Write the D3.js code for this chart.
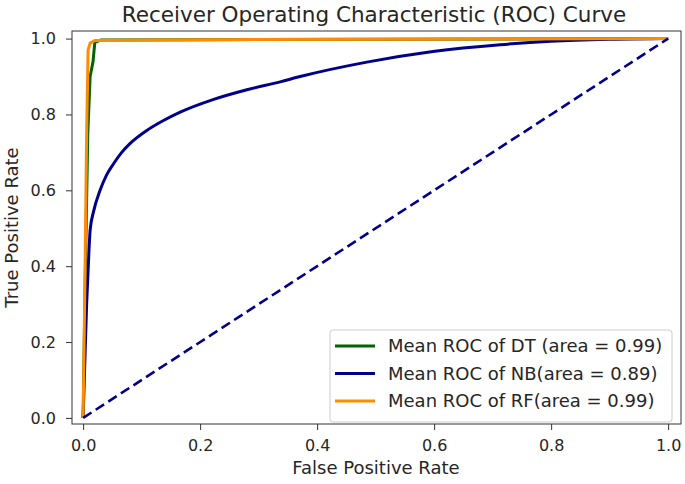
<!DOCTYPE html>
<html>
<head>
<meta charset="utf-8">
<script src="https://cdn.jsdelivr.net/npm/d3@7"></script>
<style>
  body { margin: 0; background: #fff; }
  text { font-family: "DejaVu Sans", sans-serif; fill: #262626; }
</style>
</head>
<body>
<div id="chart"></div>
<script>
// ROC curves
var dtPoints = [[0, 0], [0.004, 0.4], [0.008, 0.75], [0.012, 0.9], [0.017, 0.94], [0.02, 0.99], [0.03, 0.996], [0.2, 0.997], [1, 1]];
var nbPoints = [[0, 0], [0.006, 0.3], [0.01, 0.44], [0.012, 0.495], [0.018, 0.545], [0.029, 0.6], [0.04, 0.64],
    [0.052, 0.67], [0.065, 0.698], [0.08, 0.723], [0.109, 0.758], [0.135, 0.782], [0.166, 0.806],
    [0.222, 0.839], [0.28, 0.865], [0.337, 0.886], [0.371, 0.9], [0.485, 0.938], [0.598, 0.966],
    [0.713, 0.984], [0.8, 0.993], [0.9, 0.998], [1, 1]];
var rfPoints = [[0, 0], [0.003, 0.35], [0.006, 0.75], [0.0085, 0.97], [0.012, 0.988], [0.02, 0.995], [0.2, 0.997], [1, 1]];
var chancePoints = [[0, 0], [1, 1]];

var seriesNames = ["Mean ROC of DT (area = 0.99)", "Mean ROC of NB(area = 0.89)", "Mean ROC of RF(area = 0.99)"];
var seriesColors = ["#006400", "#00008b", "#ff8c00"];
var tickValues = [0, 0.2, 0.4, 0.6, 0.8, 1.0];

var width = 685, height = 484;
var margin = { top: 31, right: 4, bottom: 60, left: 72 };
var w = width - margin.left - margin.right;
var h = height - margin.top - margin.bottom;

var svg = d3.select("#chart").append("svg")
    .attr("width", width)
    .attr("height", height);

var g = svg.append("g")
    .attr("transform", "translate(" + margin.left + "," + margin.top + ")");

var x = d3.scaleLinear().domain([-0.019, 1.022]).range([0, w]);
var y = d3.scaleLinear().domain([-0.016, 1.02]).range([h, 0]);

// axes
var xAxis = d3.axisBottom(x).tickValues(tickValues).tickFormat(d3.format(".1f")).tickSize(6).tickPadding(10);
var yAxis = d3.axisLeft(y).tickValues(tickValues).tickFormat(d3.format(".1f")).tickSize(6).tickPadding(10);

var gx = g.append("g")
    .attr("transform", "translate(0," + h + ")")
    .call(xAxis);
var gy = g.append("g").call(yAxis);

[gx, gy].forEach(function (a) {
    a.select(".domain").remove();
    a.selectAll("line").attr("stroke", "#333");
    a.selectAll("text").style("font-size", "16px").style("font-family", "DejaVu Sans, sans-serif").attr("fill", "#262626");
});

// curves
var line = d3.line()
    .x(function (d) { return x(d[0]); })
    .y(function (d) { return y(d[1]); });

var smooth = d3.line()
    .curve(d3.curveMonotoneX)
    .x(function (d) { return x(d[0]); })
    .y(function (d) { return y(d[1]); });

var curves = [dtPoints, nbPoints, rfPoints];
curves.forEach(function (pts, i) {
    g.append("path")
        .datum(pts)
        .attr("fill", "none")
        .attr("stroke", seriesColors[i])
        .attr("stroke-width", 3)
        .attr("stroke-linejoin", "round")
        .attr("d", i == 1 ? smooth : line);
});

g.append("path")
    .datum(chancePoints)
    .attr("fill", "none")
    .attr("stroke", "#00008b")
    .attr("stroke-width", 2.6)
    .attr("stroke-dasharray", "10,5")
    .attr("d", line);

// frame
g.append("rect")
    .attr("width", w)
    .attr("height", h)
    .attr("fill", "none")
    .attr("stroke", "#333")
    .attr("stroke-width", 1);

// title and labels
svg.append("text")
    .attr("x", 374)
    .attr("y", 22)
    .attr("text-anchor", "middle")
    .style("font-size", "21.5px")
    .text("Receiver Operating Characteristic (ROC) Curve");

svg.append("text")
    .attr("x", 376)
    .attr("y", 474)
    .attr("text-anchor", "middle")
    .style("font-size", "18px")
    .text("False Positive Rate");

svg.append("text")
    .attr("transform", "translate(18," + (margin.top + h / 2) + ") rotate(-90)")
    .attr("text-anchor", "middle")
    .style("font-size", "18px")
    .text("True Positive Rate");

// legend
var legend = svg.append("g").attr("transform", "translate(330,330)");
legend.append("rect")
    .attr("width", 342)
    .attr("height", 92)
    .attr("rx", 3)
    .attr("fill", "#fff")
    .attr("fill-opacity", 0.8)
    .attr("stroke", "#ccc");

seriesNames.forEach(function (name, i) {
    var row = legend.append("g").attr("transform", "translate(0," + (16 + i * 27.5) + ")");
    row.append("line")
        .attr("x1", 5).attr("x2", 45)
        .attr("stroke", seriesColors[i])
        .attr("stroke-width", 3);
    row.append("text")
        .attr("x", 58)
        .attr("dy", "0.35em")
        .style("font-size", "18px")
        .text(name);
});
</script>
</body>
</html>
